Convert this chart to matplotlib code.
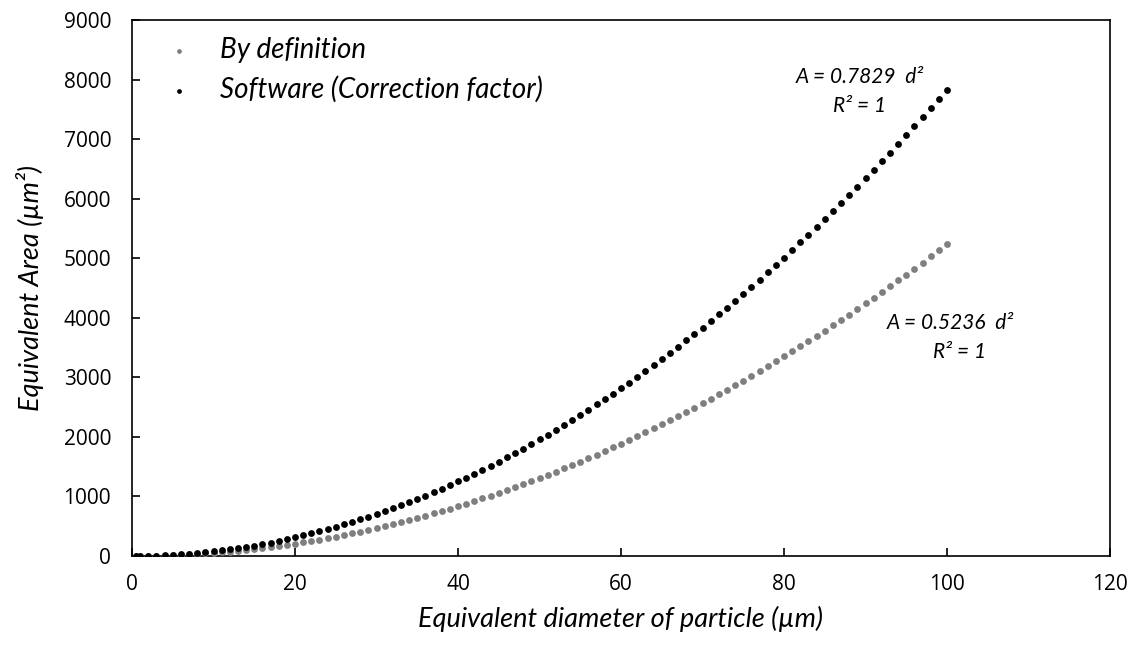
import matplotlib
matplotlib.use("Agg")
import matplotlib.pyplot as plt

# Equivalent diameter of particle (um)
diameter = [0.5, 1, 2, 3, 4, 5, 6, 7, 8, 9, 10,
            11, 12, 13, 14, 15, 16, 17, 18, 19, 20,
            21, 22, 23, 24, 25, 26, 27, 28, 29, 30,
            31, 32, 33, 34, 35, 36, 37, 38, 39, 40,
            41, 42, 43, 44, 45, 46, 47, 48, 49, 50,
            51, 52, 53, 54, 55, 56, 57, 58, 59, 60,
            61, 62, 63, 64, 65, 66, 67, 68, 69, 70,
            71, 72, 73, 74, 75, 76, 77, 78, 79, 80,
            81, 82, 83, 84, 85, 86, 87, 88, 89, 90,
            91, 92, 93, 94, 95, 96, 97, 98, 99, 100]

# "By definition" equivalent area (um^2)
area_definition = [0.1, 1, 2, 5, 8, 13, 19, 26, 34, 42, 52,
                   63, 75, 88, 103, 118, 134, 151, 170, 189, 209,
                   231, 253, 277, 302, 327, 354, 382, 410, 440, 471,
                   503, 536, 570, 605, 641, 679, 717, 756, 796, 838,
                   880, 924, 968, 1014, 1060, 1108, 1157, 1206, 1257, 1309,
                   1362, 1416, 1471, 1527, 1584, 1642, 1701, 1761, 1823, 1885,
                   1948, 2013, 2078, 2145, 2212, 2281, 2350, 2421, 2493, 2566,
                   2639, 2714, 2790, 2867, 2945, 3024, 3104, 3186, 3268, 3351,
                   3435, 3521, 3607, 3695, 3783, 3873, 3963, 4055, 4147, 4241,
                   4336, 4432, 4529, 4627, 4725, 4826, 4927, 5029, 5132, 5236]

# "Software (Correction factor)" equivalent area (um^2)
area_software = [0.2, 1, 3, 7, 13, 20, 28, 38, 50, 63, 78,
                 95, 113, 132, 153, 176, 200, 226, 254, 283, 313,
                 345, 379, 414, 451, 489, 529, 571, 614, 658, 705,
                 752, 802, 853, 905, 959, 1015, 1072, 1131, 1191, 1253,
                 1316, 1381, 1448, 1516, 1585, 1657, 1729, 1804, 1880, 1957,
                 2036, 2117, 2199, 2283, 2368, 2455, 2544, 2634, 2725, 2818,
                 2913, 3009, 3107, 3207, 3308, 3410, 3514, 3620, 3727, 3836,
                 3947, 4059, 4172, 4287, 4404, 4522, 4642, 4763, 4886, 5011,
                 5137, 5264, 5393, 5524, 5656, 5790, 5926, 6063, 6201, 6341,
                 6483, 6626, 6771, 6918, 7066, 7215, 7366, 7519, 7673, 7829]

series_labels = ["By definition", "Software (Correction factor)"]
x_ticks = [0, 20, 40, 60, 80, 100, 120]
y_ticks = [0, 1000, 2000, 3000, 4000, 5000, 6000, 7000, 8000, 9000]

ITALIC_FONT = ["Lato", "DejaVu Sans"]
TICK_FONT = ["Open Sans", "DejaVu Sans"]

fig = plt.figure(figsize=(11.38, 6.46), dpi=100)
ax = fig.add_axes([132 / 1138, 90 / 646, 978 / 1138, 536 / 646])

ax.scatter(diameter, area_definition, s=24, color="#7f7f7f", linewidths=0,
           label=series_labels[0], zorder=3)
ax.scatter(diameter, area_software, s=24, color="#000000", linewidths=0,
           label=series_labels[1], zorder=3)

ax.set_xlim(0, 120)
ax.set_ylim(0, 9000)
ax.set_xticks(x_ticks)
ax.set_yticks(y_ticks)
ax.tick_params(direction="in", length=6, width=1.2, labelsize=15)
ax.tick_params(axis="x", pad=13)
ax.tick_params(axis="y", pad=15)
for lab in ax.get_xticklabels() + ax.get_yticklabels():
    lab.set_family(TICK_FONT)
for sp in ax.spines.values():
    sp.set_linewidth(1.2)
    sp.set_color("black")

ax.set_xlabel("Equivalent diameter of particle (\u00b5m)", fontsize=19.5,
              family=ITALIC_FONT, style="italic", labelpad=8)
ax.set_ylabel("Equivalent Area (\u00b5m\u00b2)", fontsize=19.5,
              family=ITALIC_FONT, style="italic", labelpad=14)

leg = ax.legend(loc="upper left", bbox_to_anchor=(0.008, 1.014), frameon=False,
                prop={"family": ITALIC_FONT, "style": "italic", "size": 20},
                handlelength=1.0, handletextpad=1.0, labelspacing=0.45,
                markerscale=0.7, borderpad=0.4)

ANN = dict(ha="center", va="center", fontsize=15, family=ITALIC_FONT, style="italic")
ax.text(89.3, 8040, "A = 0.7829  d\u00b2", **ANN)
ax.text(89.3, 7550, "R\u00b2 = 1", **ANN)
ax.text(100.4, 3910, "A = 0.5236  d\u00b2", **ANN)
ax.text(101.6, 3420, "R\u00b2 = 1", **ANN)

fig.savefig("out.png", dpi=100)
